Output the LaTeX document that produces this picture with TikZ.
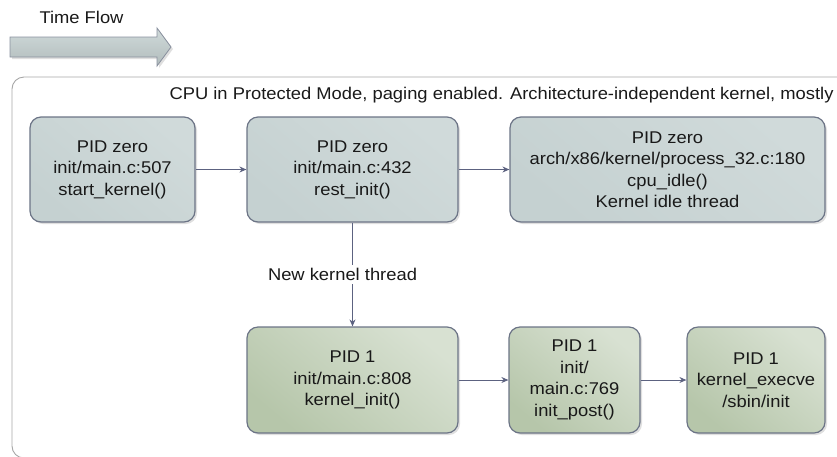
\documentclass[tikz,border=0pt]{standalone}
\usepackage{fontspec}
\setmainfont{Liberation Sans}[FakeStretch=1.08]
\usetikzlibrary{shadows,arrows.meta}
\definecolor{boxline}{HTML}{6C7486}
\definecolor{arrline}{HTML}{5C6280}
\definecolor{greyA}{HTML}{D0DADA}
\definecolor{greyB}{HTML}{C5D1D1}
\definecolor{greenA}{HTML}{D8E1D2}
\definecolor{greenB}{HTML}{B6C6AA}
\begin{document}
\begin{tikzpicture}[x=1pt,y=-1pt,>={Stealth[length=7pt,width=6pt]},
    every node/.style={font=\fontsize{17}{21.5}\selectfont,align=center,text=black!90},
    pidbox/.style={draw=boxline,line width=1.2pt,rounded corners=11pt,inner sep=2pt,
        drop shadow={shadow xshift=2pt,shadow yshift=-2pt,opacity=0.25}},
    zerobox/.style={pidbox,top color=greyA,bottom color=greyB,shading angle=-40},
    onebox/.style={pidbox,top color=greenA,bottom color=greenB,shading angle=-40},
    flow/.style={->,draw=arrline,line width=1pt}]
                        \useasboundingbox (0,0) rectangle (837,456);
                        \clip (0,0) rectangle (837,456);
                        % time flow arrow
                        \node[anchor=west] (timeflow) at (36,17) {Time Flow};
                        \draw[draw=boxline!80,line width=0.8pt,top color=greyA,bottom color=greyB!90!black,
                            drop shadow={shadow xshift=2pt,shadow yshift=-2pt,opacity=0.25}]
                            (10,37) -- (157,37) -- (157,28) -- (171,47) -- (157,66) -- (157,57) -- (10,57) -- cycle;
                        % container
                        \draw[draw=gray!70,line width=0.9pt,rounded corners=12pt] (12,77) rectangle (900,458);
                        \node[anchor=west] (cpu) at (166,95)
                            {CPU in Protected Mode, paging enabled. Architecture-independent kernel, mostly};
                        % PID zero
                        \node[zerobox,minimum width=165,minimum height=105] (start) at (112.5,169.5)
                            {PID zero\\init/main.c:507\\start\_kernel()};
                        \node[zerobox,minimum width=211,minimum height=105] (rest) at (352.5,169.5)
                            {PID zero\\init/main.c:432\\rest\_init()};
                        \node[zerobox,minimum width=315,minimum height=105] (idle) at (667.5,169.5)
                            {PID zero\\arch/x86/kernel/process\_32.c:180\\cpu\_idle()\\Kernel idle thread};
                        % PID 1
                        \node[onebox,minimum width=211,minimum height=106] (kinit) at (352.5,380)
                            {PID 1\\init/main.c:808\\kernel\_init()};
                        \node[onebox,minimum width=131,minimum height=106] (post) at (574.5,380)
                            {PID 1\\init/\\main.c:769\\init\_post()};
                        \node[onebox,minimum width=138,minimum height=106] (execve) at (756,380)
                            {PID 1\\kernel\_execve\\/sbin/init};
                        % connectors
                        \draw[flow] (start) -- (rest);
                        \draw[flow] (rest) -- (idle);
                        \draw[flow] (rest) -- node[fill=white,inner sep=3pt,xshift=-10pt] (newthread) {New kernel thread} (kinit);
                        \draw[flow] (kinit) -- (post);
                        \draw[flow] (post) -- (execve);
                    \end{tikzpicture}
\end{document}
